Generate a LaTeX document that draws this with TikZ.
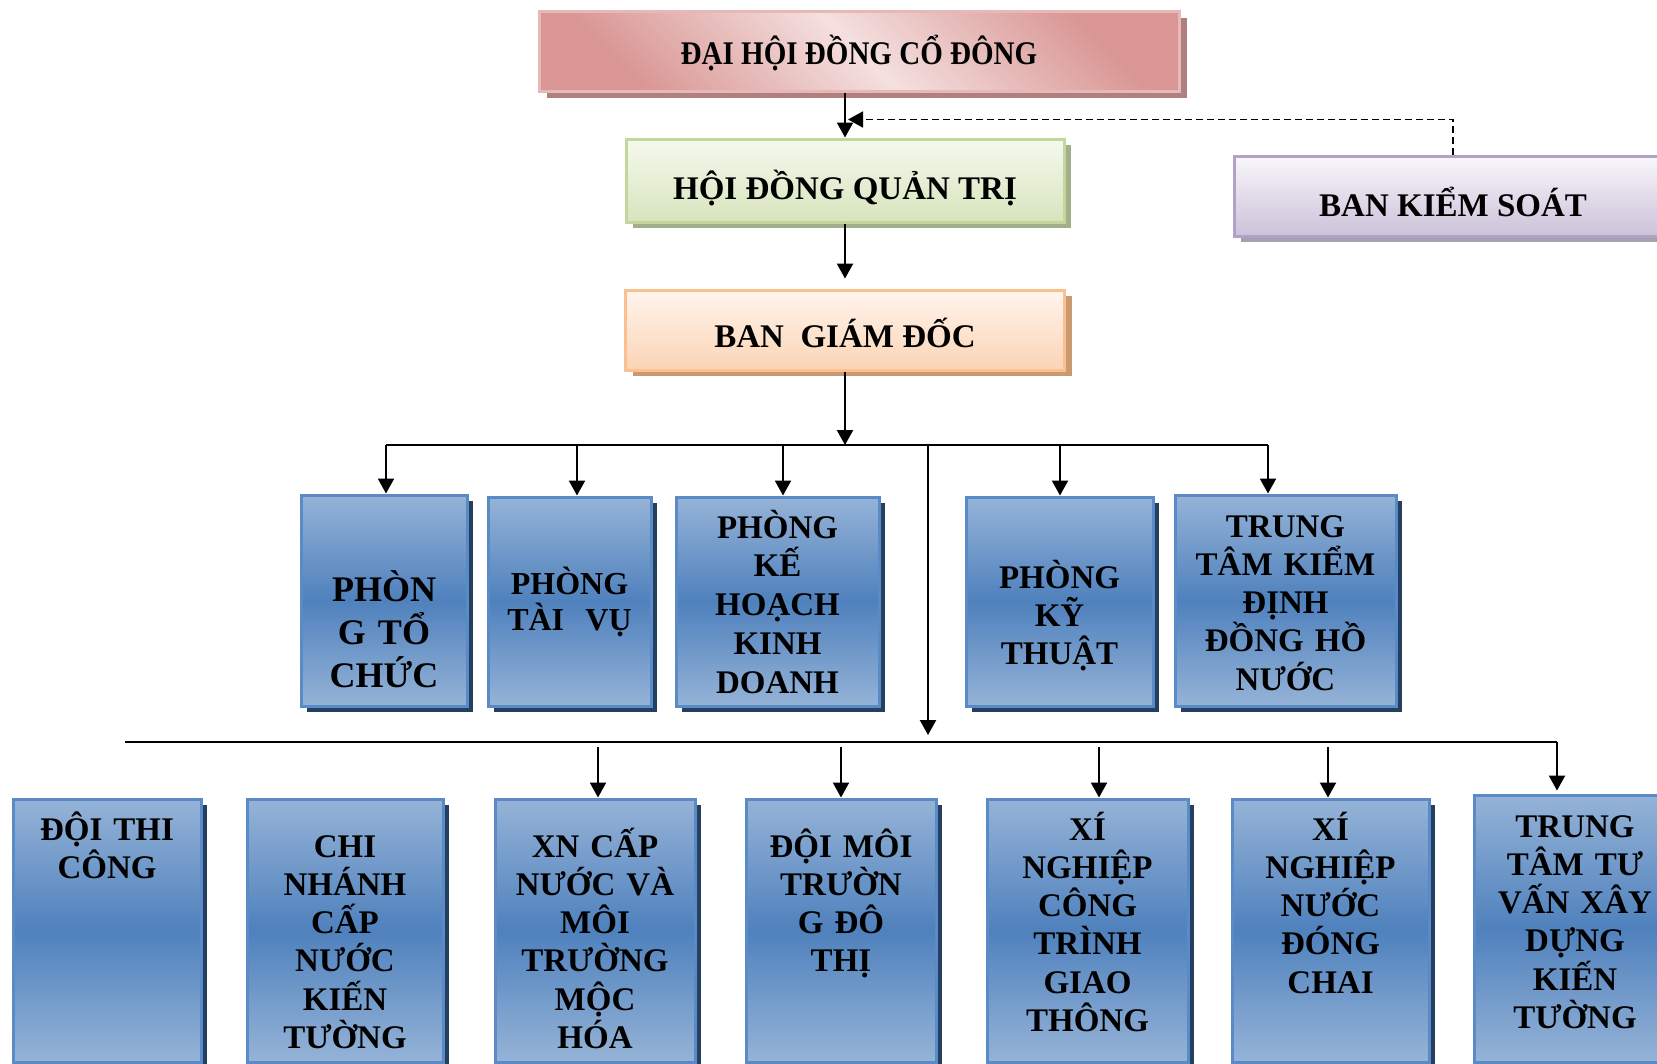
\documentclass[tikz,border=0pt]{standalone}
\usepackage{fontspec}
\setmainfont{Liberation Serif}
\usepackage{graphicx}
\usetikzlibrary{arrows.meta,shadows}

\definecolor{pklight}{HTML}{F4E0DF}
\definecolor{pkdark}{HTML}{D99694}
\definecolor{pkborder}{HTML}{E6B9B8}
\definecolor{pkshadow}{HTML}{B08080}
\definecolor{grlight}{HTML}{F5F9EE}
\definecolor{grdark}{HTML}{D7E4BD}
\definecolor{grborder}{HTML}{C3D69B}
\definecolor{grshadow}{HTML}{A3AE8A}
\definecolor{pulight}{HTML}{F8F6FA}
\definecolor{pudark}{HTML}{CCC1DA}
\definecolor{puborder}{HTML}{B2A2C7}
\definecolor{pushadow}{HTML}{A6A0AE}
\definecolor{orlight}{HTML}{FFF5EE}
\definecolor{ordark}{HTML}{FBD4B4}
\definecolor{orborder}{HTML}{FAC090}
\definecolor{orshadow}{HTML}{C99A70}
\definecolor{unitlight}{HTML}{95B3D7}
\definecolor{unitdark}{HTML}{4F81BD}
\definecolor{unitborder}{HTML}{5B8BC6}
\definecolor{unitshadow}{HTML}{243F60}

\newcommand\headfont{\fontsize{33}{38}\selectfont\bfseries}
\newcommand\unitfont{\fontsize{33}{38.3}\selectfont\bfseries}

\tikzset{
  wire/.style={line width=2.2pt},
  arr/.style={line width=2.2pt, -{Triangle[length=15pt,width=16pt]}},
  head/.style={line width=3pt, minimum height=80pt, inner sep=0pt,
    text height=38pt, text depth=0pt, font=\headfont},
  unit/.style={draw=unitborder, line width=3pt, inner sep=0pt,
    top color=unitlight, bottom color=unitlight, middle color=unitdark,
    drop shadow={shadow xshift=6pt, shadow yshift=-6pt, fill=unitshadow, opacity=1}},
  unittext/.style={anchor=base, align=center, inner sep=0pt, font=\unitfont},
}

\begin{document}
\begin{tikzpicture}[x=1pt, y=-1pt]
  \useasboundingbox (0,0) rectangle (1657,1063);
  \clip (0,0) rectangle (1657,1063);

  % General meeting of shareholders
  \node[head, draw=pkborder, minimum width=640pt, text height=26pt,
    left color=pkdark, right color=pkdark, middle color=pklight, shading angle=135,
    drop shadow={shadow xshift=8pt, shadow yshift=-7pt, fill=pkshadow, opacity=1}]
    (dh) at (859,51) {\scalebox{0.88}[1]{ĐẠI HỘI ĐỒNG CỔ ĐÔNG}};
  % Board of management
  \node[head, draw=grborder, minimum width=438pt, minimum height=83pt,
    top color=grlight, bottom color=grdark,
    drop shadow={shadow xshift=7pt, shadow yshift=-6pt, fill=grshadow, opacity=1}]
    (hd) at (845,180.5) {HỘI ĐỒNG QUẢN TRỊ};
  % Supervisory board
  \node[head, draw=puborder, minimum width=438pt, text height=39pt,
    top color=pulight, bottom color=pudark,
    drop shadow={shadow xshift=7pt, shadow yshift=-5pt, fill=pushadow, opacity=1}]
    (bks) at (1453,196.5) {BAN KIỂM SOÁT};
  % Directors
  \node[head, draw=orborder, minimum width=439pt, text height=34pt,
    top color=orlight, bottom color=ordark,
    drop shadow={shadow xshift=7pt, shadow yshift=-6pt, fill=orshadow, opacity=1}]
    (bgd) at (845,330) {BAN\ \ GIÁM ĐỐC};

  \draw[arr] (dh.south -| hd.north) -- (hd.north);
  \draw[arr, line width=1.8pt, dash pattern=on 7pt off 4pt]
    (bks.north) |- ([xshift=3pt, yshift=18pt]hd.north);
  \draw[arr, shorten >=10pt] (hd.south) -- (bgd.north);

  % Departments
  \node[unit, minimum width=166pt, minimum height=211pt] (m1) at (384,600.5) {};
  \node[unit, minimum width=163pt, minimum height=209pt] (m2) at (569.5,601.5) {};
  \node[unit, minimum width=203pt, minimum height=209pt] (m3) at (777.5,601.5) {};
  \node[unit, minimum width=187pt, minimum height=209pt] (m4) at (1059.5,601.5) {};
  \node[unit, minimum width=221pt, minimum height=211pt] (m5) at (1285.5,600.5) {};

  \node[unittext, text width=166pt, font=\fontsize{36}{43}\selectfont\bfseries]
    (m1t) at (384,601) {PHÒN\\G TỔ\\CHỨC};
  \node[unittext, text width=163pt, font=\fontsize{32}{36}\selectfont\bfseries]
    (m2t) at (569.5,594) {PHÒNG\\TÀI\ \ VỤ};
  \node[unittext, text width=203pt, font=\fontsize{33}{38.8}\selectfont\bfseries]
    (m3t) at (777.5,538) {PHÒNG\\KẾ\\HOẠCH\\KINH\\DOANH};
  \node[unittext, text width=187pt] (m4t) at (1059.5,588) {PHÒNG\\KỸ\\THUẬT};
  \node[unittext, text width=221pt] (m5t) at (1285.5,537)
    {TRUNG\\TÂM KIỂM\\ĐỊNH\\ĐỒNG HỒ\\NƯỚC};

  % Upper bus
  \coordinate (jb) at (845,445);
  \coordinate (j1) at (386,445);
  \coordinate (j2) at (577,445);
  \coordinate (j3) at (783,445);
  \coordinate (jc) at (928,445);
  \coordinate (j4) at (1060,445);
  \coordinate (j5) at (1268,445);
  \draw[arr] (bgd.south) -- (jb);
  \draw[wire] (j1) -- (j5);
  \draw[arr] (j1) -- (j1 |- m1.north);
  \draw[arr] (j2) -- (j2 |- m2.north);
  \draw[arr] (j3) -- (j3 |- m3.north);
  \draw[arr] (j4) -- (j4 |- m4.north);
  \draw[arr] (j5) -- (j5 |- m5.north);

  % Units
  \node[unit, minimum width=188pt, minimum height=263pt] (u1) at (107,930.5) {};
  \node[unit, minimum width=196pt, minimum height=263pt] (u2) at (345,930.5) {};
  \node[unit, minimum width=200pt, minimum height=263pt] (u3) at (595,930.5) {};
  \node[unit, minimum width=190pt, minimum height=263pt] (u4) at (841,930.5) {};
  \node[unit, minimum width=201pt, minimum height=263pt] (u5) at (1087.5,930.5) {};
  \node[unit, minimum width=197pt, minimum height=263pt] (u6) at (1330.5,930.5) {};
  \node[unit, minimum width=202pt, minimum height=267pt] (u7) at (1575,928.5) {};

  \node[unittext, text width=188pt] (u1t) at (107,840) {ĐỘI THI\\CÔNG};
  \node[unittext, text width=196pt] (u2t) at (345,857)
    {CHI\\NHÁNH\\CẤP\\NƯỚC\\KIẾN\\TƯỜNG};
  \node[unittext, text width=200pt] (u3t) at (595,857)
    {XN CẤP\\NƯỚC VÀ\\MÔI\\TRƯỜNG\\MỘC\\HÓA};
  \node[unittext, text width=190pt] (u4t) at (841,857)
    {ĐỘI MÔI\\TRƯỜN\\G ĐÔ\\THỊ};
  \node[unittext, text width=201pt] (u5t) at (1087.5,840)
    {XÍ\\NGHIỆP\\CÔNG\\TRÌNH\\GIAO\\THÔNG};
  \node[unittext, text width=197pt] (u6t) at (1330.5,840)
    {XÍ\\NGHIỆP\\NƯỚC\\ĐÓNG\\CHAI};
  \node[unittext, text width=202pt] (u7t) at (1575,837)
    {TRUNG\\TÂM TƯ\\VẤN XÂY\\DỰNG\\KIẾN\\TƯỜNG};

  % Lower bus
  \coordinate (k0) at (125,742);
  \coordinate (k3) at (598,747);
  \coordinate (k4) at (841,747);
  \coordinate (k5) at (1099,747);
  \coordinate (k6) at (1328,747);
  \coordinate (k7) at (1557,742);
  \draw[arr, shorten >=7pt] (jc) -- (jc |- k0);
  \draw[wire] (k0) -- (k7);
  \draw[arr] (k3) -- (k3 |- u3.north);
  \draw[arr] (k4) -- (k4 |- u4.north);
  \draw[arr] (k5) -- (k5 |- u5.north);
  \draw[arr] (k6) -- (k6 |- u6.north);
  \draw[arr, shorten >=3pt] (k7) -- (k7 |- u7.north);
\end{tikzpicture}
\end{document}
